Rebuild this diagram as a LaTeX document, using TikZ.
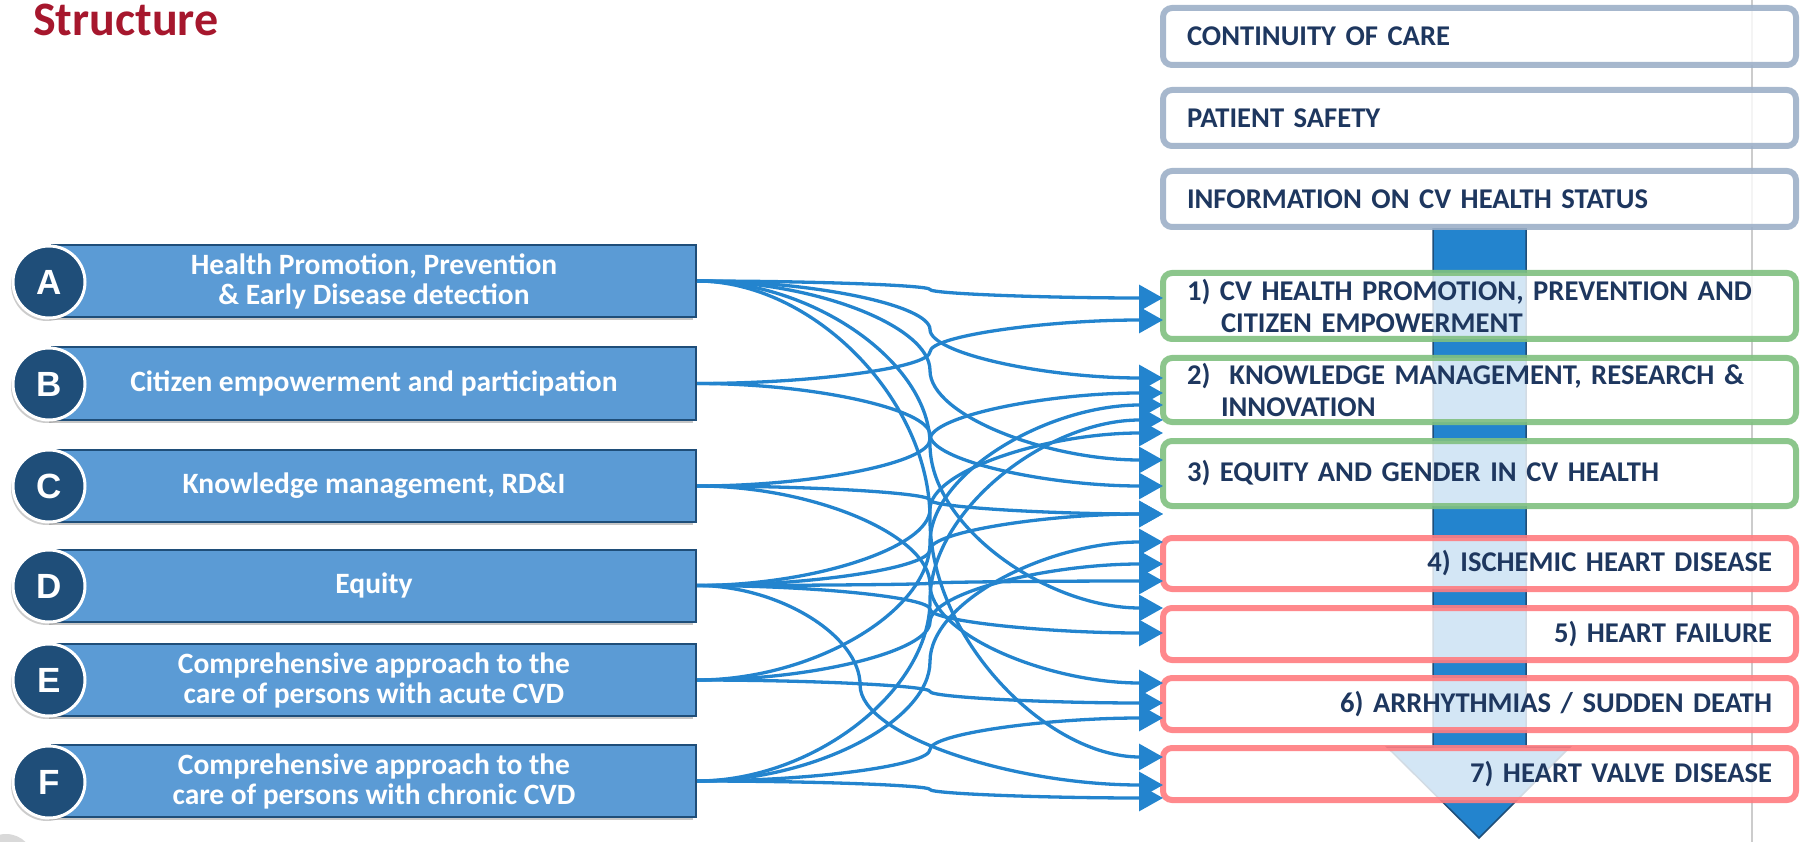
\documentclass[tikz,border=0pt]{standalone}
\usepackage{fontspec}
\setmainfont{Carlito}
\newfontfamily\letterfont{Liberation Sans}
\usetikzlibrary{arrows.meta,calc,shadows}
\definecolor{linkblue}{RGB}{35,132,206}
\definecolor{boxblue}{RGB}{91,155,213}
\definecolor{navy}{RGB}{31,78,121}
\definecolor{textnavy}{RGB}{30,55,95}
\definecolor{greyblue}{RGB}{157,176,200}
\definecolor{softgreen}{RGB}{128,192,128}
\definecolor{softred}{RGB}{255,124,128}
\definecolor{titlered}{RGB}{166,23,45}
\newcommand\link[3][0.5]{%
\draw[link] let \p1=(#2.east), \p2=(#3), \n1={#1} in
(\p1) .. controls ({\x1+\n1*(\x2-\x1)/2},\y1) and ({\x1+\n1*(\x2-\x1)},{(3*\y1+\y2)/4})
.. ({\x1+\n1*(\x2-\x1)},{(\y1+\y2)/2})
.. controls ({\x1+\n1*(\x2-\x1)},{(\y1+3*\y2)/4}) and ({\x1+(1+\n1)*(\x2-\x1)/2},\y2) .. (\p2);}

\begin{document}
\begin{tikzpicture}[x=1pt,y=-1pt,
srcbox/.style={draw=navy,line width=2pt,fill=boxblue,minimum width=644pt,minimum height=72pt,inner sep=0pt,align=center,text=white,font=\fontsize{29.5}{30}\selectfont\bfseries,drop shadow={shadow xshift=-3pt,shadow yshift=-3pt,opacity=0.45}},
badge/.style={circle,draw=white,line width=3pt,fill=navy,minimum size=72pt,inner sep=0pt,text=white,font=\letterfont\fontsize{35}{35}\selectfont\bfseries,drop shadow={shadow xshift=-2pt,shadow yshift=-3pt,opacity=0.4}},
goalbox/.style={rounded corners=9pt,line width=6pt,fill=white,fill opacity=0.8,text opacity=1,draw opacity=0.9,minimum width=633pt,inner xsep=24pt,inner ysep=0pt,text width=585pt,text=textnavy,font=\fontsize{28.6}{32}\selectfont\bfseries},
crossbox/.style={goalbox,draw=greyblue,align=left},
linebox/.style={goalbox,draw=softgreen,align=left},
diseasebox/.style={goalbox,draw=softred,align=right},
link/.style={draw=linkblue,line width=3.3pt,-{Triangle[length=24pt,width=26pt]}}]
\useasboundingbox (0,0) rectangle (1808,842);
\fill[black!15] (6,862) circle (28);
\draw[black!20,line width=2pt] (1752,0) -- (1752,842);
\draw[navy,line width=1.5pt,fill=linkblue] (1433,229) -- (1526,229) -- (1526,747) -- (1570,747) -- (1479,838) -- (1387,747) -- (1433,747) -- cycle;

\node[anchor=base west,inner sep=0pt,text=titlered,font=\fontsize{48}{48}\selectfont\bfseries] (title) at (33,36) {Structure};

\node[crossbox,minimum height=57pt] (continuity) at (1479.5,36.5) {CONTINUITY OF CARE};
\node[crossbox,minimum height=56pt] (safety) at (1479.5,118) {PATIENT SAFETY};
\node[crossbox,minimum height=56pt] (info) at (1479.5,199) {INFORMATION ON CV HEALTH STATUS};
\node[linebox,minimum height=66pt] (line1) at (1479.5,306) {1) CV HEALTH PROMOTION, PREVENTION AND\\\hspace*{34pt}CITIZEN EMPOWERMENT};
\node[linebox,minimum height=64pt] (line2) at (1479.5,390) {2)\ \ KNOWLEDGE MANAGEMENT, RESEARCH \&\\\hspace*{34pt}INNOVATION};
\node[linebox,minimum height=65pt] (line3) at (1479.5,473.5) {3) EQUITY AND GENDER IN CV HEALTH};
\node[diseasebox,minimum height=51pt] (ihd) at (1479.5,563.5) {4) ISCHEMIC HEART DISEASE};
\node[diseasebox,minimum height=52pt] (hf) at (1479.5,634) {5) HEART FAILURE};
\node[diseasebox,minimum height=52pt] (arrhythmia) at (1479.5,704) {6) ARRHYTHMIAS / SUDDEN DEATH};
\node[diseasebox,minimum height=52pt] (valve) at (1479.5,774) {7) HEART VALVE DISEASE};

\node[srcbox] (promo) at (374,281) {Health Promotion, Prevention\\\& Early Disease detection};
\node[srcbox] (empower) at (374,383.5) {Citizen empowerment and participation};
\node[srcbox] (knowledge) at (374,486) {Knowledge management, RD\&I};
\node[srcbox] (equity) at (374,585.5) {Equity};
\node[srcbox] (acute) at (374,680) {Comprehensive approach to the\\care of persons with acute CVD};
\node[srcbox] (chronic) at (374,781) {Comprehensive approach to the\\care of persons with chronic CVD};
\node[badge] (badgeA) at (49,282) {A};
\node[badge] (badgeB) at (49,384) {B};
\node[badge] (badgeC) at (49,486) {C};
\node[badge] (badgeD) at (49,586) {D};
\node[badge] (badgeE) at (49,680) {E};
\node[badge] (badgeF) at (49,782) {F};

\coordinate (g1a) at (1163,298);
\coordinate (g1b) at (1163,320);
\coordinate (g2a) at (1163,378);
\coordinate (g2b) at (1163,393);
\coordinate (g2c) at (1163,405);
\coordinate (g2d) at (1163,420);
\coordinate (g2e) at (1163,433);
\coordinate (g3a) at (1163,460);
\coordinate (g3b) at (1163,486);
\coordinate (g3c) at (1163,514);
\coordinate (g4a) at (1163,542);
\coordinate (g4b) at (1163,564);
\coordinate (g4c) at (1163,581);
\coordinate (g5a) at (1163,608);
\coordinate (g5b) at (1163,633);
\coordinate (g6a) at (1163,683);
\coordinate (g6b) at (1163,703);
\coordinate (g6c) at (1163,718);
\coordinate (g7a) at (1163,757);
\coordinate (g7b) at (1163,785);
\coordinate (g7c) at (1163,798);

\link{promo}{g1a}
\link{promo}{g2a}
\link{promo}{g3a}
\link{promo}{g5a}
\link{promo}{g7a}
\link{empower}{g1b}
\link{empower}{g3b}
\link{knowledge}{g2b}
\link{knowledge}{g3c}
\link{knowledge}{g6a}
\link{equity}{g2e}
\link{equity}{g3c}
\link{equity}{g4c}
\link{equity}{g5b}
\link[0.35]{equity}{g7b}
\link{acute}{g2c}
\link{acute}{g4b}
\link{acute}{g6b}
\link{chronic}{g2d}
\link{chronic}{g4a}
\link{chronic}{g6c}
\link{chronic}{g7c}
\end{tikzpicture}
\end{document}
